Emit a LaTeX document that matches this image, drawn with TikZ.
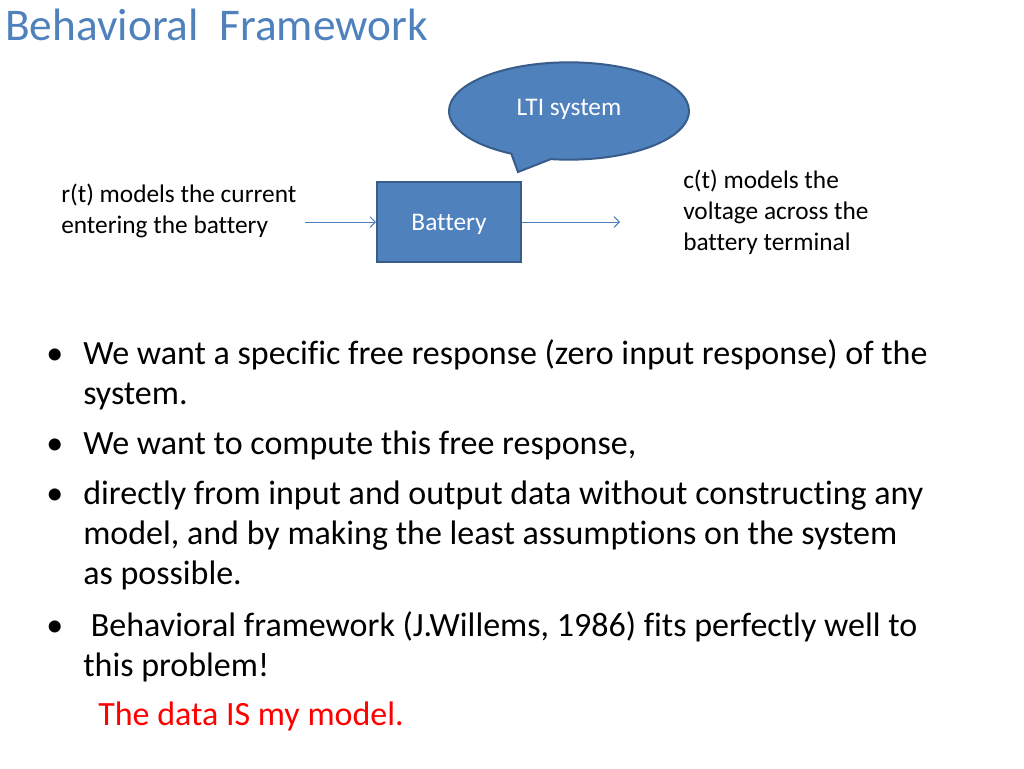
\documentclass[tikz,border=0pt]{standalone}
\usepackage{fontspec}
\setmainfont{Carlito}[Ligatures=NoCommon]
\usepackage{tikz}
\usetikzlibrary{shapes.callouts}
\usetikzlibrary{arrows.meta}
\definecolor{slideblue}{HTML}{4F81BD}
\definecolor{slideedge}{HTML}{385D8A}
\definecolor{arrowblue}{HTML}{4A7EBB}
\newcommand{\bodyfont}{\fontsize{25.5}{30}\selectfont}
\tikzset{
  block/.style={draw=slideedge, line width=1.5pt, fill=slideblue, text=white,
    font=\fontsize{19}{23}\selectfont},
  label/.style={anchor=base west, align=left, inner sep=0pt,
    font=\fontsize{19}{23}\selectfont},
  bullet/.style={anchor=base west, inner sep=0pt, font=\bodyfont},
  body/.style={anchor=base west, align=left, inner sep=0pt, font=\bodyfont},
  flow/.style={draw=arrowblue, line width=0.75pt, -{Straight Barb[length=4pt,width=8pt]}}
}

\begin{document}
\begin{tikzpicture}[x=0.75pt, y=-0.75pt]
    \path[fill=white, use as bounding box] (0,0) rectangle (1024,768);
    \node[anchor=base west, inner sep=0pt, text=slideblue,
      font=\fontsize{34}{41}\selectfont] (title) at (5,40) {Behavioral\ \ Framework};
    % the system and its signals
    \node[block, minimum width=108pt, minimum height=60pt,
      text height=12.2pt, text depth=0pt] (B) at (449,222) {Battery};
    \node[block, ellipse callout, inner sep=0pt, minimum width=180pt, minimum height=73pt,
      text height=10pt, text depth=3pt,
      callout absolute pointer={(518,172)}, callout pointer arc=20] (LTI) at (569,111) {LTI system};
    \coordinate (in) at (305,222);
    \coordinate (out) at (620,222);
    \path[flow] (in) -- (B.west);
    \path[flow] (B.east) -- (out);
    % base of a multi-line node is its last line
    \node[label] (R) at (61,233) {r(t) models the current\\entering the battery};
    \node[label] (C) at (683,250) {c(t) models the\\voltage across the\\battery terminal};
    % bullets
    \node[bullet] (D1) at (46,364) {•};
    \node[body] (T1) at (83,404) {We want a specific free response (zero input response) of the\\system.};
    \node[bullet] (D2) at (46,454) {•};
    \node[body] (T2) at (83,454) {We want to compute this free response,};
    \node[bullet] (D3) at (46,504) {•};
    \node[body] (T3) at (83,584) {directly from input and output data without constructing any\\model, and by making the least assumptions on the system\\as possible.};
    \node[bullet] (D4) at (46,636) {•};
    \node[body] (T4) at (83,676) {\ Behavioral framework (J.Willems, 1986) fits perfectly well to\\this problem!};
    \node[body, text=red] (M) at (98,725) {The data IS my model.};
  \end{tikzpicture}
\end{document}
